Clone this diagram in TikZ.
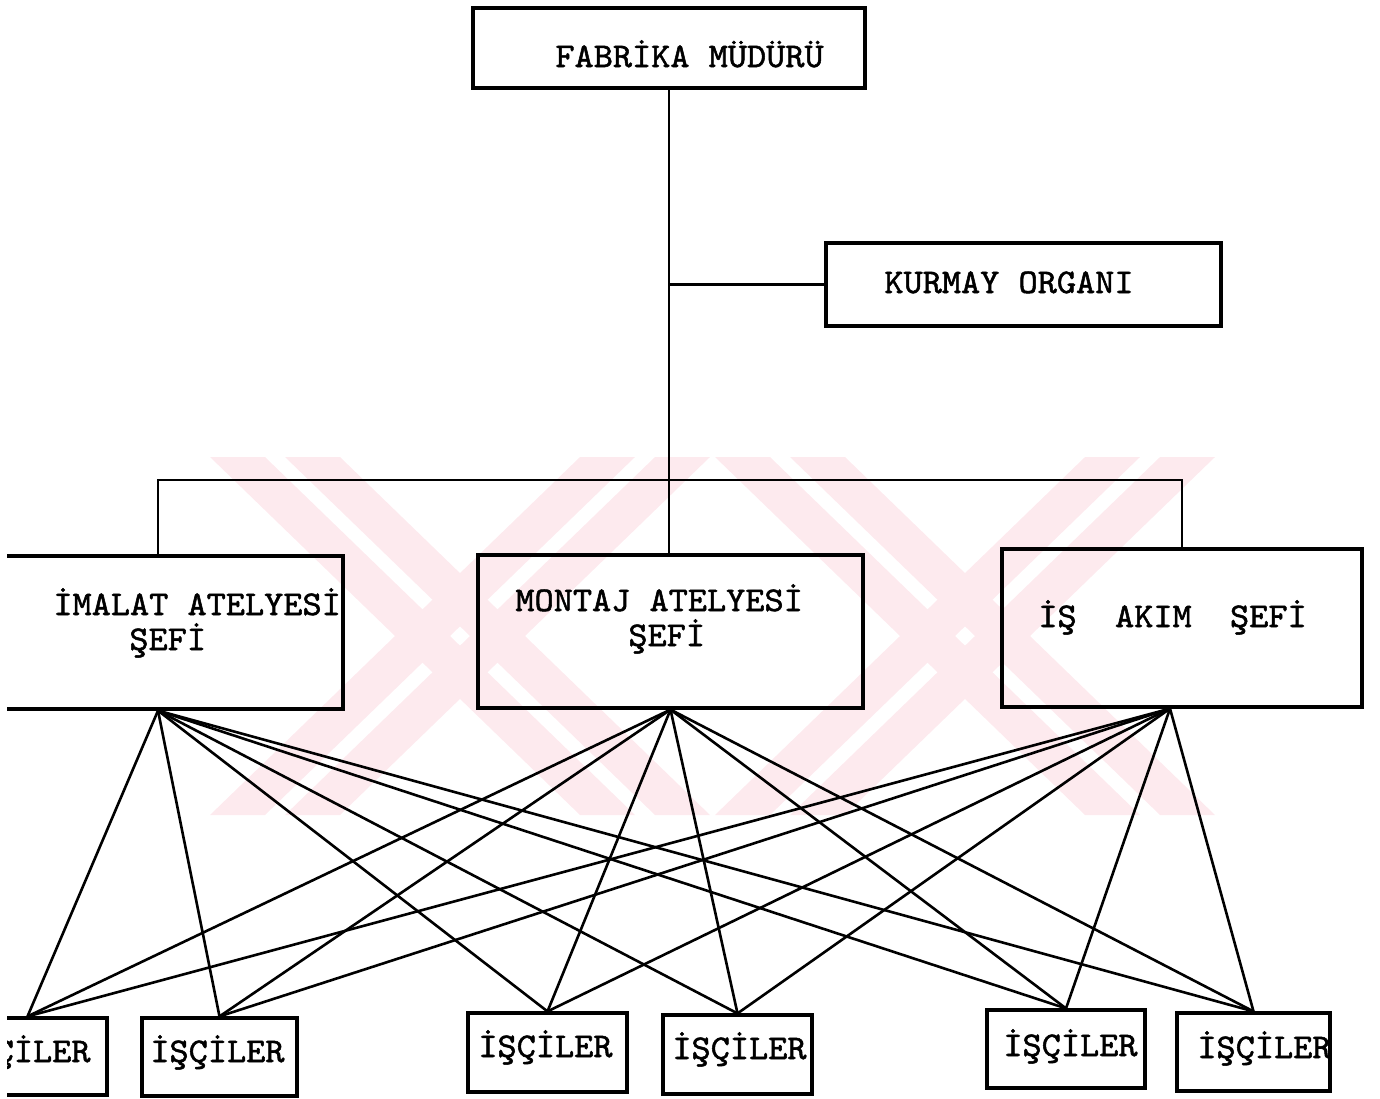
\documentclass[tikz,border=0pt]{standalone}
\usepackage{fontspec}
\newfontfamily\twfont{lmmono10-regular.otf}[FakeBold=1.5,FakeStretch=1.055]
\usetikzlibrary{fit}
\definecolor{wm}{RGB}{253,234,238}
\begin{document}
\begin{tikzpicture}[x=0.5pt,y=-0.5pt,
  box/.style={draw, line width=1.6pt, inner sep=0pt},
  link/.style={line width=1.3pt},
  trunk/.style={line width=1.1pt},
  lbl/.style={font=\twfont\fontsize{17.3}{20}\selectfont, inner sep=0pt, anchor=base west}]
\useasboundingbox (0,0) rectangle (1380,1098);
\clip (7,0) rectangle (1380,1098);
% faint watermark
\foreach \a/\b/\c/\d in {210/265/580/635, 285/340/655/710, 580/635/210/265, 655/710/285/340,
                         715/770/1085/1140, 790/845/1160/1215, 1085/1140/715/770, 1160/1215/790/845}
  \fill[wm] (\a,457) -- (\b,457) -- (\d,815) -- (\c,815) -- cycle;
% boxes
\node[box, fit={(473,8) (865,88)}] (fab) {};
\node[box, fit={(826,243) (1221,326)}] (kur) {};
\node[box, fit={(-27,556) (343,709)}] (ima) {};
\node[box, fit={(478,555) (863,708)}] (mon) {};
\node[box, fit={(1002,549) (1362,707)}] (isa) {};
\node[box, fit={(-52,1018) (107,1095)}] (wa) {};
\node[box, fit={(142,1018) (297,1096)}] (wb) {};
\node[box, fit={(468,1013) (627,1092)}] (wc) {};
\node[box, fit={(663,1015) (812,1094)}] (wd) {};
\node[box, fit={(987,1010) (1145,1088)}] (we) {};
\node[box, fit={(1177,1013) (1330,1091)}] (wf) {};
% labels
\node[lbl] (tfab) at (555,67) {FABRİKA MÜDÜRÜ};
\node[lbl] (tkur) at (884,293) {KURMAY ORGANI};
\node[lbl] (tima1) at (53,615) {İMALAT ATELYESİ};
\node[lbl] (tima2) at (129,650) {ŞEFİ};
\node[lbl] (tmon1) at (515,611) {MONTAJ ATELYESİ};
\node[lbl] (tmon2) at (628,646) {ŞEFİ};
\node[lbl] (tisa) at (1038,627) {İŞ~~AKIM~~ŞEFİ};
\node[lbl] (twa) at (-44,1062) {İŞÇİLER};
\node[lbl] (twb) at (150,1062) {İŞÇİLER};
\node[lbl] (twc) at (478,1057) {İŞÇİLER};
\node[lbl] (twd) at (672,1059) {İŞÇİLER};
\node[lbl] (twe) at (1003,1056) {İŞÇİLER};
\node[lbl] (twf) at (1197,1058) {İŞÇİLER};
% hierarchy
\draw[trunk] (fab.south) -- (fab.south |- mon.north);
\draw[trunk] (fab.south |- kur.west) -- (kur.west);
\coordinate (bar) at (669,480);
\draw[trunk] (ima.north) |- (bar) -| (isa.north);
% fan-out
\coordinate (isaF) at ([xshift=-6pt]isa.south);
\foreach \t in {wa,wb,wc,wd,we,wf}{
  \draw[link] (ima.south) -- (\t.north);
  \draw[link] (mon.south) -- (\t.north);
  \draw[link] (isaF) -- (\t.north);
}
\end{tikzpicture}
\end{document}
